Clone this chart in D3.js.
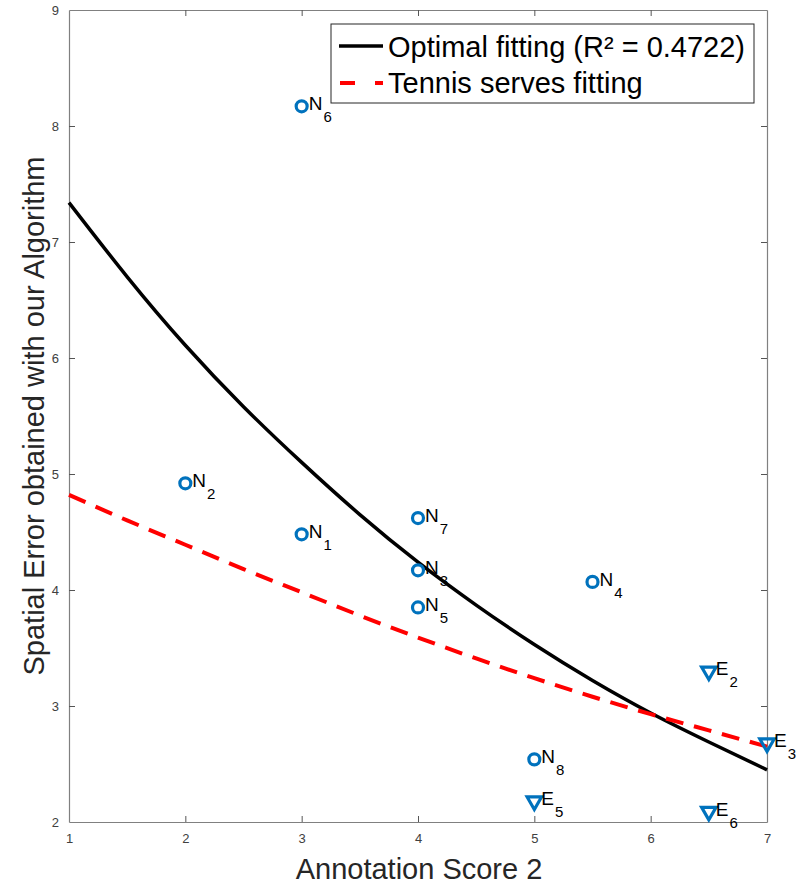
<!DOCTYPE html>
<html><head><meta charset="utf-8">
<script src="https://cdn.jsdelivr.net/npm/d3@7"></script>
<style>body{margin:0;background:#fff}svg{display:block}</style>
</head><body>
<script>
// Data
const circleNames = ["N1","N2","N3","N4","N5","N6","N7","N8"];
const circleSubs  = ["1","2","3","4","5","6","7","8"];
const circleX = [3, 2, 4, 5.5, 4, 3, 4, 5];
const circleY = [4.48, 4.92, 4.17, 4.07, 3.85, 8.17, 4.62, 2.54];
const triSubs = ["2","3","5","6"];
const triX = [6.5, 7, 5, 6.5];
const triY = [3.30, 2.68, 2.18, 2.09];
const fitX = [1, 1.5, 2, 2.5, 3, 3.5, 4, 4.5, 5, 5.5, 6, 6.5, 7];
const optimalY = [7.34, 6.70, 6.11, 5.58, 5.10, 4.65, 4.24, 3.87, 3.53, 3.22, 2.94, 2.69, 2.45];
const tennisY  = [4.82, 4.60, 4.39, 4.18, 3.98, 3.78, 3.59, 3.41, 3.24, 3.08, 2.93, 2.79, 2.65];
const xTicks = [1,2,3,4,5,6,7];
const yTicks = [2,3,4,5,6,7,8,9];

const W = 798, H = 885;
const L = 69, R = 767, T = 10, B = 822;
const svg = d3.select("body").append("svg").attr("width", W).attr("height", H)
  .style("font-family", "Arial, 'Liberation Sans', Helvetica, sans-serif");

const x = d3.scaleLinear().domain([1,7]).range([L,R]);
const y = d3.scaleLinear().domain([2,9]).range([B,T]);
const axisCol = "#808080", textCol = "#404040";

// Axes with inner ticks
const gx = svg.append("g").attr("transform",`translate(0,${B})`)
  .call(d3.axisBottom(x).tickValues(xTicks).tickSize(-6).tickSizeOuter(0).tickPadding(11).tickFormat(d3.format("d")));
const gxt = svg.append("g").attr("transform",`translate(0,${T})`)
  .call(d3.axisTop(x).tickValues(xTicks).tickSize(-6).tickSizeOuter(0).tickFormat(""));
const gy = svg.append("g").attr("transform",`translate(${L},0)`)
  .call(d3.axisLeft(y).tickValues(yTicks).tickSize(-6).tickSizeOuter(0).tickPadding(10).tickFormat(d3.format("d")));
const gyr = svg.append("g").attr("transform",`translate(${R},0)`)
  .call(d3.axisRight(y).tickValues(yTicks).tickSize(-6).tickSizeOuter(0).tickFormat(""));
[gx,gxt,gy,gyr].forEach(g=>{
  g.select(".domain").attr("stroke",axisCol).attr("stroke-width",1.2);
  g.selectAll(".tick line").attr("stroke","#555").attr("stroke-width",1);
  g.selectAll(".tick text").attr("fill",textCol).attr("font-size",13);
});
gxt.selectAll(".tick").filter(d=>d===1||d===7).select("line").remove();
gx.selectAll(".tick").filter(d=>d===1||d===7).select("line").remove();
gy.selectAll(".tick").filter(d=>d===2||d===9).select("line").remove();
gyr.selectAll(".tick").filter(d=>d===2||d===9).select("line").remove();
gx.selectAll(".tick text").attr("dy","0.8em");

// Fit lines
const line = (ys) => d3.line().x((d,i)=>x(fitX[i])).y((d,i)=>y(ys[i])).curve(d3.curveNatural)(ys);
svg.append("path").attr("d", line(optimalY)).attr("fill","none").attr("stroke","#000").attr("stroke-width",3.5);
svg.append("path").attr("d", line(tennisY)).attr("fill","none").attr("stroke","#ff0000").attr("stroke-width",4).attr("stroke-dasharray","18,11");

const blue = "#0072BD";
circleX.forEach((cx,i)=>{
  svg.append("circle").attr("cx",x(cx)).attr("cy",y(circleY[i])).attr("r",5.5)
    .attr("fill","none").attr("stroke",blue).attr("stroke-width",3.2);
});
const triPath = d3.symbol().type(d3.symbolTriangle).size(90);
triX.forEach((tx,i)=>{
  svg.append("path").attr("d",triPath()).attr("transform",`translate(${x(tx)},${y(triY[i])}) rotate(180)`)
    .attr("fill","none").attr("stroke",blue).attr("stroke-width",3.2).attr("stroke-linejoin","miter");
});

function label(px, py, letter, sub){
  const t = svg.append("text").attr("x",x(px)+7).attr("y",y(py)+4).attr("fill","#000").attr("font-size",19);
  t.append("tspan").text(letter);
  t.append("tspan").attr("font-size",15).attr("dy",12).attr("dx",1).text(sub);
}
circleX.forEach((cx,i)=>label(cx, circleY[i], "N", circleSubs[i]));
triX.forEach((tx,i)=>label(tx, triY[i], "E", triSubs[i]));

// Axis titles
svg.append("text").attr("x",419).attr("y",879).attr("text-anchor","middle")
  .attr("font-size",29).attr("fill","#262626").text("Annotation Score 2");
svg.append("text").attr("transform",`translate(44,${(T+B)/2}) rotate(-90)`).attr("text-anchor","middle")
  .attr("font-size",29).attr("fill","#262626").text("Spatial Error obtained with our Algorithm");

// Legend
const lg = svg.append("g");
lg.append("rect").attr("x",331).attr("y",24).attr("width",423).attr("height",79)
  .attr("fill","#fff").attr("stroke","#262626").attr("stroke-width",1);
lg.append("line").attr("x1",339).attr("x2",383).attr("y1",46).attr("y2",46).attr("stroke","#000").attr("stroke-width",3.5);
lg.append("line").attr("x1",340).attr("x2",383).attr("y1",83).attr("y2",83).attr("stroke","#ff0000").attr("stroke-width",4).attr("stroke-dasharray","15,20");
lg.append("text").attr("x",388).attr("y",57).attr("font-size",29).attr("fill","#000").text("Optimal fitting (R² = 0.4722)");
lg.append("text").attr("x",388).attr("y",93).attr("font-size",29).attr("fill","#000").text("Tennis serves fitting");
</script>
</body></html>
